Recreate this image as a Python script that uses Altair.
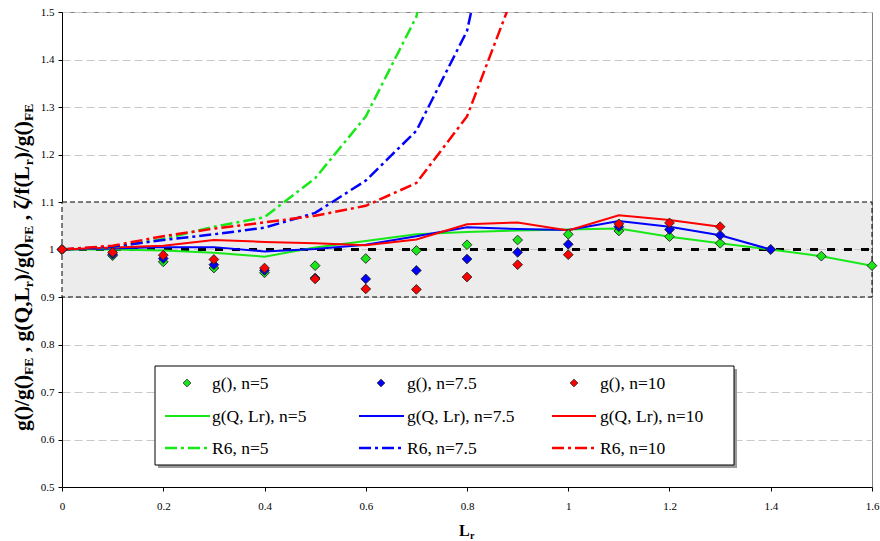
import altair as alt
import pandas as pd

# ---------------- data ----------------
lr = [0.0, 0.1, 0.2, 0.3, 0.4, 0.5, 0.6, 0.7, 0.8, 0.9, 1.0, 1.1, 1.2, 1.3, 1.4, 1.5, 1.6]

g_n5 = [1.000, 0.987, 0.974, 0.961, 0.951, 0.966, 0.981, 0.998, 1.010, 1.020, 1.032, 1.039, 1.027, 1.013, 1.000, 0.986, 0.966]
g_n75 = [1.000, 0.990, 0.981, 0.968, 0.956, 0.940, 0.938, 0.956, 0.980, 0.994, 1.011, 1.048, 1.042, 1.030, 1.000]
g_n10 = [1.000, 0.994, 0.988, 0.979, 0.961, 0.938, 0.917, 0.916, 0.942, 0.968, 0.989, 1.054, 1.056, 1.048]

gq_n5 = [1.000, 1.000, 0.998, 0.993, 0.985, 1.004, 1.018, 1.032, 1.037, 1.040, 1.042, 1.044, 1.027, 1.013, 1.000, 0.986, 0.966]
gq_n75 = [1.000, 1.002, 1.005, 1.005, 0.996, 1.001, 1.010, 1.028, 1.047, 1.043, 1.041, 1.060, 1.048, 1.030, 1.000]
gq_n10 = [1.000, 1.004, 1.008, 1.020, 1.016, 1.013, 1.009, 1.021, 1.053, 1.057, 1.040, 1.072, 1.062, 1.048]

r6_n5 = [1.000, 1.005, 1.022, 1.048, 1.068, 1.150, 1.280, 1.490, 2.000]
r6_n75 = [1.000, 1.006, 1.020, 1.032, 1.046, 1.077, 1.145, 1.250, 1.460, 1.950]
r6_n10 = [1.000, 1.008, 1.028, 1.044, 1.057, 1.071, 1.092, 1.140, 1.280, 1.560]

series = ["n=5", "n=7.5", "n=10"]
colors = ["#18e818", "#0000ff", "#ff0000"]

x_ticks = [0, 0.2, 0.4, 0.6, 0.8, 1.0, 1.2, 1.4, 1.6]
y_ticks = [0.5, 0.6, 0.7, 0.8, 0.9, 1.0, 1.1, 1.2, 1.3, 1.4, 1.5]

band_low, band_high = 0.9, 1.1
ref_level = 1.0

legend_labels = [
    ["g(), n=5", "g(), n=7.5", "g(), n=10"],
    ["g(Q, Lr), n=5", "g(Q, Lr), n=7.5", "g(Q, Lr), n=10"],
    ["R6, n=5", "R6, n=7.5", "R6, n=10"],
]


def long(ys, name):
    return pd.DataFrame({"x": lr[:len(ys)], "y": ys, "s": name})


pts = pd.concat([long(g_n5, "n=5"), long(g_n75, "n=7.5"), long(g_n10, "n=10")])
gq = pd.concat([long(gq_n5, "n=5"), long(gq_n75, "n=7.5"), long(gq_n10, "n=10")])
r6 = pd.concat([long(r6_n5, "n=5"), long(r6_n75, "n=7.5"), long(r6_n10, "n=10")])
band_df = pd.DataFrame({"x": [lr[0]], "x2": [lr[-1]], "y": [band_low], "y2": [band_high]})
ref_df = pd.DataFrame({"x": [lr[0]], "x2": [lr[-1]], "y": [ref_level]})

# ---------------- layout ----------------
FONT = "Liberation Serif"
W, H = 810, 475
PL, PT = 62, 12

xs = alt.Scale(domain=[0, 1.6], nice=False, zero=False)
ys = alt.Scale(domain=[0.5, 1.5], nice=False, zero=False)
cs = alt.Scale(domain=series, range=colors)

x_axis = alt.Axis(values=x_ticks, format="~g", title=None, grid=False, labelFont=FONT,
                  labelFontSize=11, labelColor="black", tickColor="black", domainColor="black",
                  tickSize=4, labelPadding=9, labelFlush=False, labelOverlap=False)
y_axis = alt.Axis(values=y_ticks, format="~g", title=None, grid=True, gridColor="#c8c8c8",
                  gridDash=[8, 4], labelFont=FONT, labelFontSize=11, labelColor="black",
                  tickColor="black", domainColor="black", tickSize=4, labelPadding=4,
                  labelOverlap=False)


def X(f):
    return alt.X(f, type="quantitative", scale=xs, axis=x_axis)


def Y(f):
    return alt.Y(f, type="quantitative", scale=ys, axis=y_axis)


layers = []

band = alt.Chart(band_df).mark_rect(fill="#ececec", stroke="black", strokeDash=[5, 3],
                                    strokeWidth=1).encode(x=X("x"), x2="x2", y=Y("y"), y2="y2")
layers.append(band)

grid1 = alt.Chart(ref_df).mark_rule(color="#c8c8c8", strokeDash=[8, 4], strokeWidth=1).encode(
    x=X("x"), x2="x2", y=Y("y"))
ref = alt.Chart(ref_df).mark_rule(color="black", strokeDash=[8, 9], strokeWidth=3).encode(
    x=X("x"), x2="x2", y=Y("y"))
layers += [grid1, ref]

gq_line = alt.Chart(gq).mark_line(strokeWidth=2, clip=True).encode(
    x=X("x"), y=Y("y"), color=alt.Color("s:N", scale=cs, legend=None), detail="s:N")
r6_line = alt.Chart(r6).mark_line(strokeWidth=2.5, strokeDash=[12, 4, 3, 4], clip=True).encode(
    x=X("x"), y=Y("y"), color=alt.Color("s:N", scale=cs, legend=None), detail="s:N")
pt_mark = alt.Chart(pts).mark_point(shape="diamond", filled=True, size=95, stroke="#222222",
                                    strokeWidth=0.9, opacity=1).encode(
    x=X("x"), y=Y("y"), fill=alt.Fill("s:N", scale=cs, legend=None))
layers += [gq_line, r6_line, pt_mark]

# ---------------- legend (manual) ----------------
def vx(px):
    return px - PL


def vy(py):
    return py - PT


LB = (155, 366, 734, 465)
shadow = alt.Chart(band_df).mark_rect(fill="#9a9a9a").encode(
    x=alt.value(vx(LB[0] + 3)), x2=alt.value(vx(LB[2] + 3)), y=alt.value(vy(LB[1] + 3)), y2=alt.value(vy(LB[3] + 3)))
box = alt.Chart(band_df).mark_rect(fill="white", stroke="black", strokeWidth=1).encode(
    x=alt.value(vx(LB[0])), x2=alt.value(vx(LB[2])), y=alt.value(vy(LB[1])), y2=alt.value(vy(LB[3])))
layers += [shadow, box]

col_sym = [187, 381, 574]
col_line = [(165, 210), (359, 404), (552, 596)]
col_text = [212, 407, 600]
row_y = [383, 416, 448]

for r in range(3):
    for c in range(3):
        yv = vy(row_y[r])
        if r == 0:
            layers.append(alt.Chart(band_df).mark_point(shape="diamond", filled=True, size=60,
                                                         fill=colors[c], stroke="#222222", strokeWidth=0.8, opacity=1).encode(
                x=alt.value(vx(col_sym[c])), y=alt.value(yv)))
        elif r == 1:
            layers.append(alt.Chart(band_df).mark_rule(color=colors[c], strokeWidth=2).encode(
                x=alt.value(vx(col_line[c][0])), x2=alt.value(vx(col_line[c][1])), y=alt.value(yv)))
        else:
            layers.append(alt.Chart(band_df).mark_rule(color=colors[c], strokeWidth=2.5,
                                                        strokeDash=[12, 4, 3, 4]).encode(
                x=alt.value(vx(col_line[c][0])), x2=alt.value(vx(col_line[c][1])), y=alt.value(yv)))
        layers.append(alt.Chart(band_df).mark_text(text=legend_labels[r][c], font=FONT, fontSize=17.5,
                                                    align="left", baseline="middle", color="black").encode(
            x=alt.value(vx(col_text[c])), y=alt.value(vy(row_y[r] + 1))))

# ---------------- axis titles (with subscripts) ----------------
W_BOLD = {'g': 500, '(': 333, ')': 333, '/': 278, ' ': 250, ',': 250, 'Q': 778, 'L': 667,
          'F': 611, 'E': 667, 'r': 444, 'ζ': 450, 'f': 333}
MAIN, SUB = 21.5, 13.5
segments = [("g()/g()", 0), ("FE", 1), (" , g(Q,L", 0), ("r", 1), (")/g()", 0), ("FE", 1),
            (" , ζ/f(L", 0), ("r", 1), (")/g()", 0), ("FE", 1)]
pos = 431.0
BASE_X = 29
for txt, sub in segments:
    size = SUB if sub else MAIN
    # SVG collapses leading whitespace: advance manually instead
    lead = len(txt) - len(txt.lstrip(" "))
    pos -= lead * W_BOLD[' '] * size / 1000.0
    body = txt.lstrip(" ")
    # collapse inner spaces too? keep single inner spaces (rendered)
    layers.append(alt.Chart(band_df).mark_text(text=body, font=FONT, fontSize=size, fontWeight="bold",
                                                align="left", baseline="alphabetic", angle=270,
                                                color="black").encode(
        x=alt.value(vx(BASE_X + (4 if sub else 0))), y=alt.value(vy(pos))))
    pos -= sum(W_BOLD.get(ch, 500) for ch in body) * size / 1000.0

layers.append(alt.Chart(band_df).mark_text(text="L", font=FONT, fontSize=16, fontWeight="bold",
                                            align="left", baseline="alphabetic", color="black").encode(
    x=alt.value(vx(459)), y=alt.value(vy(536))))
layers.append(alt.Chart(band_df).mark_text(text="r", font=FONT, fontSize=10, fontWeight="bold",
                                            align="left", baseline="alphabetic", color="black").encode(
    x=alt.value(vx(470)), y=alt.value(vy(539))))

chart = alt.layer(*layers).properties(
    width=W, height=H, autosize=alt.AutoSizeParams(type="none"),
    padding={"left": PL, "top": PT, "right": 880 - PL - W, "bottom": 541 - PT - H},
    background="white",
).configure_view(stroke="#808080", strokeWidth=1)

chart.save("out.html", embed_options={"renderer": "svg", "actions": False})
